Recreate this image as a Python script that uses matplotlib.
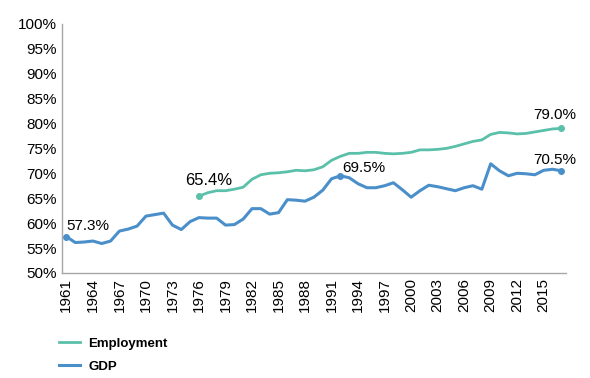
import matplotlib
matplotlib.use("Agg")
import matplotlib.pyplot as plt

years = list(range(1961, 2018))

gdp = [57.3, 56.1, 56.2, 56.4, 55.9, 56.4, 58.4, 58.8, 59.4, 61.4,
       61.7, 62.0, 59.6, 58.7, 60.3, 61.1, 61.0, 61.0, 59.6, 59.7,
       60.8, 62.9, 62.9, 61.8, 62.1, 64.7, 64.6, 64.4, 65.2, 66.6,
       68.9, 69.5, 69.1, 67.9, 67.1, 67.1, 67.5, 68.1, 66.7, 65.2,
       66.5, 67.6, 67.3, 66.9, 66.5, 67.1, 67.5, 66.8, 71.9, 70.5,
       69.5, 70.0, 69.9, 69.7, 70.6, 70.8, 70.5]

emp_years = list(range(1976, 2018))
employment = [65.4, 66.1, 66.5, 66.5, 66.8, 67.2, 68.8, 69.7, 70.0, 70.1,
              70.3, 70.6, 70.5, 70.7, 71.3, 72.6, 73.4, 74.0, 74.0, 74.2,
              74.2, 74.0, 73.9, 74.0, 74.2, 74.7, 74.7, 74.8, 75.0, 75.4,
              75.9, 76.4, 76.7, 77.8, 78.2, 78.1, 77.9, 78.0, 78.3, 78.6,
              78.9, 79.0]

tick_years = list(range(1961, 2018, 3))
y_ticks = list(range(50, 101, 5))

emp_color = "#5bc0aa"
gdp_color = "#4a8fca"

plt.rcParams['font.family'] = ['Liberation Sans', 'DejaVu Sans']

fig = plt.figure(figsize=(5.9, 3.78), dpi=100)
ax = fig.add_axes([0.105, 0.278, 0.854, 0.659])

ax.plot(emp_years, employment, color=emp_color, lw=2, label='Employment')
ax.plot(years, gdp, color=gdp_color, lw=2.2, label='GDP')

# marked points with labels
ax.plot([emp_years[0], emp_years[-1]], [employment[0], employment[-1]],
        'o', color=emp_color, ms=4)
gi = [0, years.index(1992), len(years) - 1]
ax.plot([years[i] for i in gi], [gdp[i] for i in gi], 'o', color=gdp_color, ms=4)

ax.annotate(f"{gdp[0]:.1f}%", (years[0], gdp[0]), xytext=(0, 5),
            textcoords='offset points', fontsize=11)
ax.annotate(f"{employment[0]:.1f}%", (emp_years[0], employment[0]), xytext=(-10, 8),
            textcoords='offset points', fontsize=12)
ax.annotate(f"{gdp[gi[1]]:.1f}%", (1992, gdp[gi[1]]), xytext=(1, 3),
            textcoords='offset points', fontsize=11)
ax.annotate(f"{employment[-1]:.1f}%", (emp_years[-1], employment[-1]), xytext=(-20, 7),
            textcoords='offset points', fontsize=11)
ax.annotate(f"{gdp[-1]:.1f}%", (years[-1], gdp[-1]), xytext=(-20, 5),
            textcoords='offset points', fontsize=11)

ax.set_xlim(years[0] - 0.5, years[-1] + 0.5)
ax.set_ylim(50, 100)
ax.set_yticks(y_ticks)
ax.set_yticklabels([f"{v}%" for v in y_ticks], fontsize=11)
ax.set_xticks(tick_years)
ax.set_xticklabels([str(y) for y in tick_years], rotation=90, fontsize=11)
ax.tick_params(length=0, pad=4)

for s in ['top', 'right']:
    ax.spines[s].set_visible(False)
for s in ['left', 'bottom']:
    ax.spines[s].set_color('#a6a6a6')
    ax.spines[s].set_linewidth(1)

h, l = ax.get_legend_handles_labels()
fig.legend(h, l, loc='upper left', bbox_to_anchor=(0.1, 0.107), frameon=False,
           prop={'weight': 'bold', 'size': 9.5}, handlelength=1.6,
           labelspacing=0.8, borderaxespad=0, borderpad=0, handletextpad=0.6)

fig.savefig("out.png", dpi=100)
